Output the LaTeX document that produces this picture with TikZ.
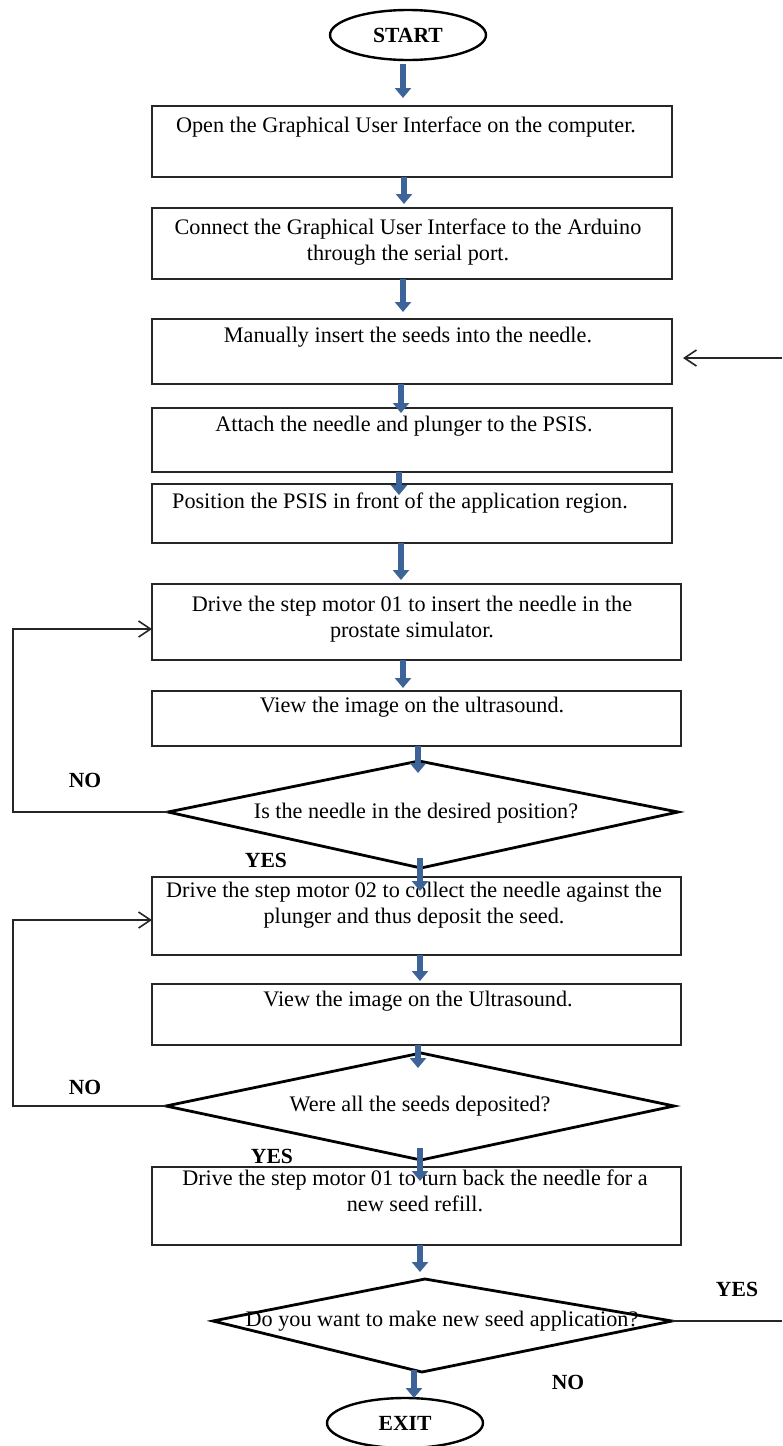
\documentclass[tikz,border=0pt]{standalone}
\usepackage{fontspec}
\setmainfont{Liberation Serif}
\usetikzlibrary{arrows.meta,shapes.geometric,calc}
\definecolor{arrowblue}{RGB}{60,100,152}
\begin{document}
\begin{tikzpicture}[x=0.5pt,y=-0.5pt,
  font=\fontsize{11.1}{13}\selectfont,
  box/.style={draw=black!85, line width=1pt, anchor=north west, inner sep=0pt, outer sep=0pt},
  txt/.style={align=center, inner sep=0pt},
  lbl/.style={font=\fontsize{10.8}{13}\selectfont\bfseries, inner sep=0pt},
  oval/.style={ellipse, draw, line width=1.2pt, minimum width=78pt, minimum height=25pt, inner sep=0pt, font=\fontsize{10.8}{13}\selectfont\bfseries},
  barrow/.style={draw=arrowblue, line width=3.3pt, -{Triangle[length=5pt,width=8pt]}},
  backline/.style={draw=black!85, line width=0.8pt},
  backarrow/.style={backline, -{Straight Barb[length=6pt,width=8pt]}},
  dia/.style={draw=black, line width=1.4pt, line join=miter}
]
\useasboundingbox (0,0) rectangle (782,1446);

% terminals
\node[oval] (start) at (408,35) {START};
\node[oval] (exit) at (405,1423) {EXIT};

% process boxes
\node[box, minimum width=260pt, minimum height=35.5pt] (b1) at (152,106) {};
\node[box, minimum width=260pt, minimum height=35.5pt] (b2) at (152,208) {};
\node[box, minimum width=260pt, minimum height=32.5pt] (b3) at (152,319) {};
\node[box, minimum width=260pt, minimum height=32pt] (b4) at (152,408) {};
\node[box, minimum width=260pt, minimum height=29.5pt] (b5) at (152,484) {};
\node[box, minimum width=264.5pt, minimum height=38pt] (b6) at (152,584) {};
\node[box, minimum width=264.5pt, minimum height=27.5pt] (b7) at (152,691) {};
\node[box, minimum width=264.5pt, minimum height=39pt] (b8) at (152,877) {};
\node[box, minimum width=264.5pt, minimum height=30.5pt] (b9) at (152,984) {};
\node[box, minimum width=264.5pt, minimum height=39pt] (b10) at (152,1167) {};

% box texts
\node[txt] (t1) at (406,127) {Open the Graphical User Interface on the computer.};
\node[txt] (t2) at (408,242) {Connect the Graphical User Interface to the Arduino\\through the serial port.};
\node[txt] (t3) at (408,337) {Manually insert the seeds into the needle.};
\node[txt] (t4) at (404,426) {Attach the needle and plunger to the PSIS.};
\node[txt] (t5) at (400,503) {Position the PSIS in front of the application region.};
\node[txt] (t6) at (412,619) {Drive the step motor 01 to insert the needle in the\\prostate simulator.};
\node[txt] (t7) at (412,707) {View the image on the ultrasound.};
\node[txt] (t8) at (414,905) {Drive the step motor 02 to collect the needle against the\\plunger and thus deposit the seed.};
\node[txt] (t9) at (418,1001) {View the image on the Ultrasound.};
\node[txt] (t10) at (415,1191) {Drive the step motor 01 to turn back the needle for a\\new seed refill.};

% decisions
\coordinate (d1t) at (419,761);
\coordinate (d1r) at (678,812);
\coordinate (d1b) at (421,868);
\coordinate (d1l) at (168,812);
\draw[dia] (d1t) -- (d1r) -- (d1b) -- (d1l) -- cycle;
\node[txt] (q1) at (416,813) {Is the needle in the desired position?};

\coordinate (d2t) at (421,1053);
\coordinate (d2r) at (674,1106);
\coordinate (d2b) at (421,1160);
\coordinate (d2l) at (166,1106);
\draw[dia] (d2t) -- (d2r) -- (d2b) -- (d2l) -- cycle;
\node[txt] (q2) at (420,1106) {Were all the seeds deposited?};

\coordinate (d3t) at (425,1279);
\coordinate (d3r) at (672,1321);
\coordinate (d3b) at (422,1372);
\coordinate (d3l) at (213,1321);
\draw[dia] (d3t) -- (d3r) -- (d3b) -- (d3l) -- cycle;
\node[txt] (q3) at (442,1321) {Do you want to make new seed application?};

% blue flow arrows
\foreach \n/\x/\a/\b in {1/403/64/98, 2/404/177/204, 3/403/279/312, 4/401/384/413,
  5/399/472/495, 6/401/543/580, 7/403/660/688, 8/418/746/773, 9/420/858/891,
  10/420/955/981, 11/418/1045/1068, 12/420/1148/1181, 13/420/1245/1272, 14/414/1370/1398}{
  \coordinate (u\n) at (\x,\a);
  \coordinate (v\n) at (\x,\b);
  \draw[barrow] (u\n) -- (v\n);
}

% NO loops
\coordinate (l1) at (13,812);
\coordinate (l1u) at (13,629);
\coordinate (e1) at (152,629);
\draw[backarrow] (d1l) -- (l1) -- (l1u) -- (e1);
\coordinate (l2) at (13,1106);
\coordinate (l2u) at (13,920);
\coordinate (e2) at (152,920);
\draw[backarrow] (d2l) -- (l2) -- (l2u) -- (e2);

% YES loop back (right side)
\coordinate (r1) at (782,1321);
\draw[backline] (d3r) -- (r1);
\coordinate (r2) at (782,358);
\coordinate (e3) at (683,358);
\draw[backarrow] (r2) -- (e3);

% labels
\node[lbl] (no1) at (85,780) {NO};
\node[lbl] (no2) at (85,1087) {NO};
\node[lbl] (yes1) at (266,860) {YES};
\node[lbl] (yes2) at (272,1156) {YES};
\node[lbl] (yes3) at (737,1289) {YES};
\node[lbl] (no3) at (568,1382) {NO};
\end{tikzpicture}
\end{document}
